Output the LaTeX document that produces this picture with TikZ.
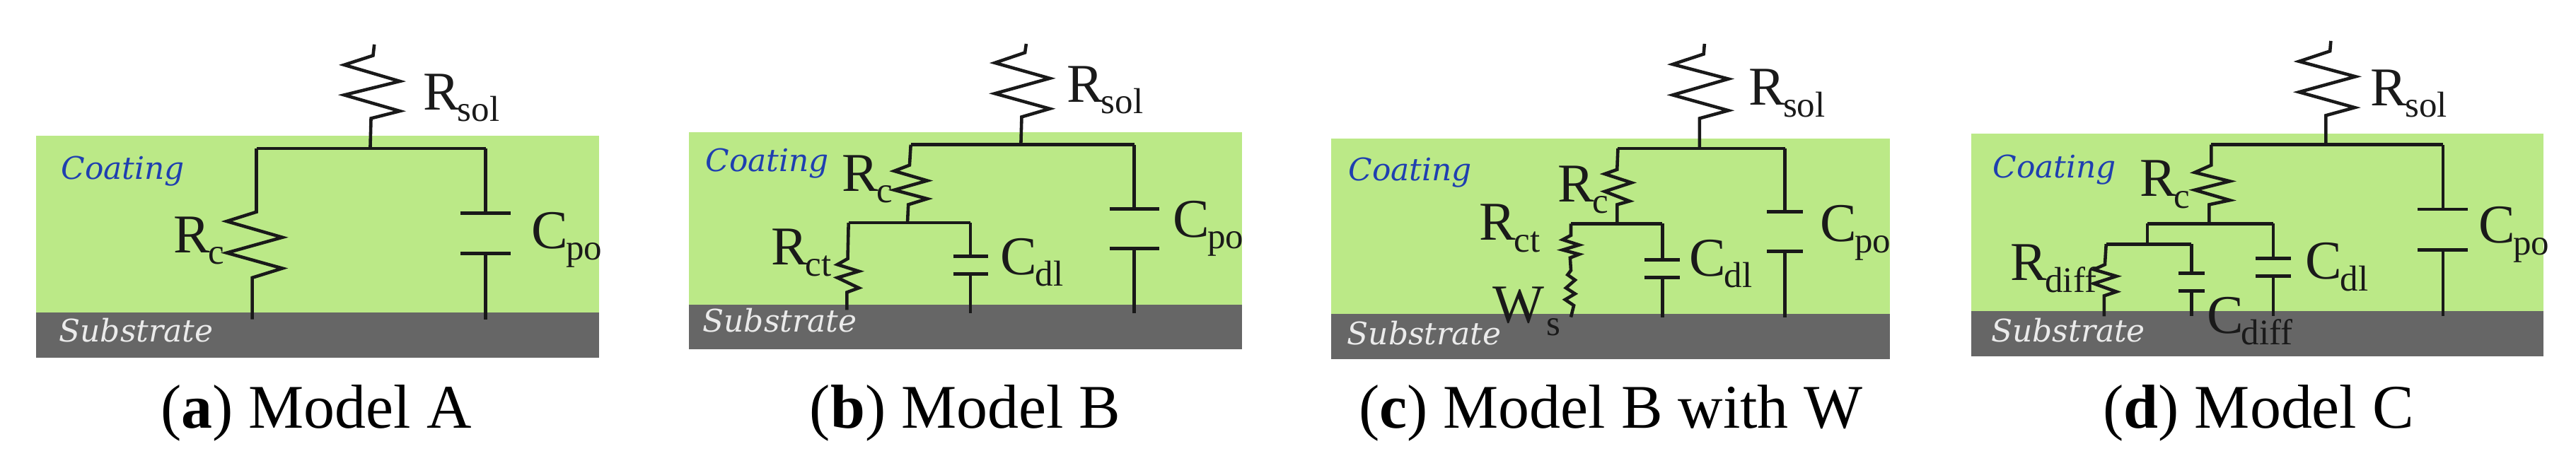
\documentclass[tikz,border=0pt]{standalone}
\usepackage{fontspec}
\setmainfont{Liberation Serif}
\newfontfamily\layerfont{DejaVu Serif}
\definecolor{coatgreen}{HTML}{BBE987}
\definecolor{subgrey}{HTML}{666666}
\definecolor{coatblue}{HTML}{1F3FB0}
\definecolor{ink}{HTML}{1A1A1A}
\newcommand\RS[2]{{\fontsize{22}{22}\selectfont #1}\kern-0.8pt\raisebox{-4.6pt}{\fontsize{14.5}{14.5}\selectfont #2}}
\tikzset{
  wire/.style={draw=black!90,line width=1.3pt,line join=miter},
  plate/.style={draw=black!90,line width=1.4pt},
  lbl/.style={anchor=base west,inner sep=0pt,text=ink},
  capt/.style={anchor=base,inner sep=0pt,font=\fontsize{25}{26}\selectfont},
  coat/.style={inner sep=0pt,text=coatblue,font=\layerfont\itshape\fontsize{12.5}{13}\selectfont},
  subs/.style={inner sep=0pt,text=white!92!black,font=\layerfont\itshape\fontsize{12.5}{13}\selectfont},
  panel/.style={x=0.005834cm,y=-0.004132cm}
}
% name, x, top y, plate 1 y, plate 2 y, bottom y, half width
\newcommand\capbranch[7]{%
  \coordinate (#1t) at (#2,#3);
  \coordinate (#1p) at (#2,#4);
  \coordinate (#1q) at (#2,#5);
  \coordinate (#1b) at (#2,#6);
  \draw[wire] (#1t) -- (#1p);
  \draw[wire] (#1q) -- (#1b);
  \draw[plate] (#2-#7,#4) -- (#2+#7,#4);
  \draw[plate] (#2-#7,#5) -- (#2+#7,#5);
}
% name prefix, green left, green top, split y, right, bottom, coating xy, substrate xy
\newcommand\layers[8]{%
  \fill[coatgreen] (#2,#3) rectangle (#5,#4);
  \fill[subgrey] (#2,#4) rectangle (#5,#6);
  \node[coat] (#1coat) at (#7) {Coating};
  \node[subs] (#1subs) at (#8) {Substrate};
}
\begin{document}
\begin{tikzpicture}
\useasboundingbox (0,0) rectangle (36.42,-6.45);
\fill[white] (0,0) rectangle (36.42,-6.45);
% ---------- a
\begin{scope}[shift={(0,0)},panel]
\layers{a}{88}{465}{1068}{1454}{1225}{298,585}{330,1130}
\coordinate (asolT) at (908,152); \coordinate (aJ) at (898,510);
\coordinate (aL) at (622,508); \coordinate (aR) at (1178,508);
\coordinate (acB) at (612,1092);
\draw[wire] (asolT) -- (905,190) -- (835,222) -- (970,278) -- (835,325) -- (970,380) -- (900,405) -- (aJ);
\draw[wire] (aL) -- (aR);
\draw[wire] (aL) -- (622,725) -- (550,757) -- (685,812) -- (550,865) -- (685,918) -- (612,950) -- (acB);
\capbranch{ap}{1178}{508}{730}{866}{1092}{61}
\node[lbl] (aRsol) at (1025,375) {\RS{R}{sol}};
\node[lbl] (aRc) at (420,865) {\RS{R}{c}};
\node[lbl] (aCpo) at (1288,850) {\RS{C}{po}};
\node[capt] (acap) at (767,1465) {(\textbf{a}) Model A};
\end{scope}
% ---------- b
\begin{scope}[shift={(9.10,0)},panel]
\layers{b}{110}{453}{1043}{1451}{1195}{300,560}{330,1095}
\coordinate (bsolT) at (928,150); \coordinate (bJ) at (915,500);
\coordinate (bL) at (648,495); \coordinate (bR) at (1190,495);
\coordinate (bJ2) at (640,762); \coordinate (bL2) at (497,762); \coordinate (bR2) at (793,762);
\coordinate (bctB) at (493,1060);
\draw[wire] (bsolT) -- (925,180) -- (852,215) -- (985,268) -- (852,320) -- (985,372) -- (917,400) -- (bJ);
\draw[wire] (bL) -- (bR);
\draw[wire] (bL) -- (645,565) -- (608,585) -- (688,618) -- (608,650) -- (688,680) -- (642,700) -- (bJ2);
\draw[wire] (bL2) -- (bR2);
\draw[wire] (bL2) -- (495,885) -- (470,905) -- (522,928) -- (470,950) -- (522,985) -- (493,1000) -- (bctB);
\capbranch{bd}{793}{762}{877}{937}{1072}{42}
\capbranch{bp}{1190}{495}{714}{850}{1072}{60}
\node[lbl] (bRsol) at (1025,350) {\RS{R}{sol}};
\node[lbl] (bRc) at (480,655) {\RS{R}{c}};
\node[lbl] (bRct) at (308,905) {\RS{R}{ct}};
\node[lbl] (bCdl) at (865,940) {\RS{C}{dl}};
\node[lbl] (bCpo) at (1283,812) {\RS{C}{po}};
\node[capt] (bcap) at (780,1465) {(\textbf{b}) Model B};
\end{scope}
% ---------- c
\begin{scope}[shift={(18.20,0)},panel]
\layers{c}{107}{475}{1075}{1462}{1228}{298,590}{332,1140}
\coordinate (csolT) at (1012,150); \coordinate (cJ) at (1000,505);
\coordinate (cL) at (802,508); \coordinate (cR) at (1207,508);
\coordinate (cJ2) at (800,765); \coordinate (cL2) at (688,765); \coordinate (cR2) at (910,765);
\coordinate (cwB) at (688,1085);
\draw[wire] (csolT) -- (1010,185) -- (935,220) -- (1070,270) -- (935,325) -- (1070,378) -- (1000,405) -- (cJ);
\draw[wire] (cL) -- (cR);
\draw[wire] (cL) -- (800,580) -- (770,595) -- (835,625) -- (770,655) -- (830,688) -- (800,700) -- (cJ2);
\draw[wire] (cL2) -- (cR2);
\draw[wire] (cL2) -- (688,805) -- (668,820) -- (708,838) -- (668,855) -- (708,870) -- (686,882) -- (688,925) -- (680,940) -- (698,958) -- (676,985) -- (698,1005) -- (674,1025) -- (695,1045) -- (cwB);
\capbranch{cd}{910}{765}{888}{950}{1085}{43}
\capbranch{cp}{1207}{508}{724}{860}{1085}{43}
\node[lbl] (cRsol) at (1118,360) {\RS{R}{sol}};
\node[lbl] (cRc) at (655,690) {\RS{R}{c}};
\node[lbl] (cRct) at (465,822) {\RS{R}{ct}};
\node[lbl] (cCdl) at (975,945) {\RS{C}{dl}};
\node[lbl] (cCpo) at (1292,825) {\RS{C}{po}};
\node[lbl] (cW) at (498,1105) {\fontsize{22}{22}\selectfont W};
\node[lbl] (cWs) at (627,1148) {\fontsize{14.5}{14.5}\selectfont s};
\node[capt] (ccap) at (785,1465) {(\textbf{c}) Model B with W};
\end{scope}
% ---------- d
\begin{scope}[shift={(27.30,0)},panel]
\layers{d}{98}{458}{1065}{1485}{1218}{300,580}{333,1130}
\coordinate (dsolT) at (970,140); \coordinate (dJ) at (958,495);
\coordinate (dL) at (680,495); \coordinate (dR) at (1242,495);
\coordinate (dJ2) at (675,765); \coordinate (dL2) at (525,765); \coordinate (dR2) at (830,765);
\coordinate (dJ3) at (525,835); \coordinate (dL3) at (425,835); \coordinate (dR3) at (632,835);
\coordinate (ddiffB) at (420,1082);
\draw[wire] (dsolT) -- (968,175) -- (893,210) -- (1030,262) -- (893,315) -- (1028,368) -- (958,395) -- (dJ);
\draw[wire] (dL) -- (dR);
\draw[wire] (dL) -- (680,565) -- (640,590) -- (725,620) -- (640,650) -- (725,685) -- (675,700) -- (dJ2);
\draw[wire] (dL2) -- (dR2);
\draw[wire] (dL2) -- (dJ3);
\draw[wire] (dL3) -- (dR3);
\draw[wire] (dL3) -- (422,905) -- (395,922) -- (450,945) -- (395,970) -- (450,998) -- (420,1012) -- (ddiffB);
\capbranch{de}{632}{835}{934}{995}{1082}{32}
\capbranch{dd}{830}{765}{885}{945}{1082}{43}
\capbranch{dp}{1242}{495}{716}{856}{1082}{61}
\node[lbl] (dRsol) at (1065,362) {\RS{R}{sol}};
\node[lbl] (dRc) at (505,672) {\RS{R}{c}};
\node[lbl] (dRdiff) at (192,960) {\RS{R}{diff}};
\node[lbl] (dCdl) at (908,955) {\RS{C}{dl}};
\node[lbl] (dCdiff) at (668,1140) {\RS{C}{diff}};
\node[lbl] (dCpo) at (1328,832) {\RS{C}{po}};
\node[capt] (dcap) at (795,1465) {(\textbf{d}) Model C};
\end{scope}
\end{tikzpicture}
\end{document}
